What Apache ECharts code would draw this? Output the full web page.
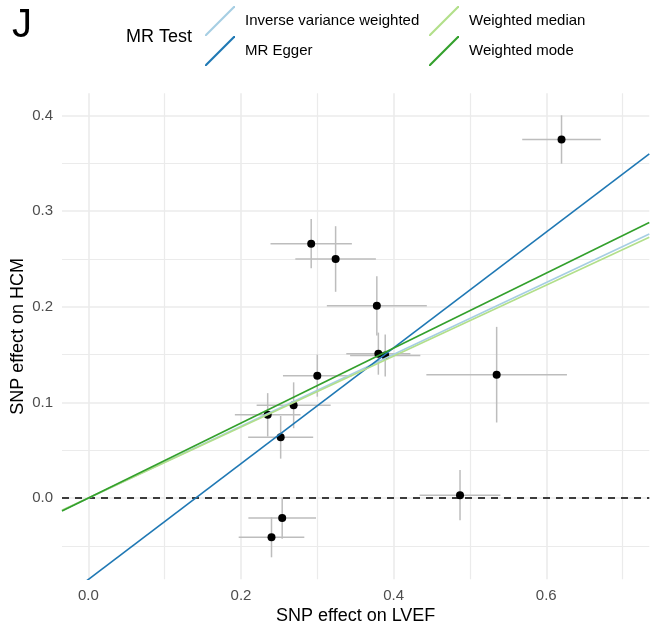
<!DOCTYPE html>
<html><head><meta charset="utf-8">
<script src="https://cdn.jsdelivr.net/npm/echarts@6/dist/echarts.min.js"></script>
<style>html,body{margin:0;padding:0;background:#fff}#c{width:661px;height:631px}</style>
</head><body><div id="c"></div>
<script>
// SNP effects (x: LVEF, y: HCM) with standard errors
const bx  = [0.620, 0.292, 0.324, 0.378, 0.380, 0.389, 0.535, 0.300, 0.269, 0.235, 0.252, 0.254, 0.240, 0.487];
const by  = [0.375, 0.266, 0.250, 0.201, 0.151, 0.149, 0.129, 0.128, 0.097, 0.087, 0.0635, -0.021, -0.041, 0.003];
const seX = [0.0515, 0.0533, 0.0528, 0.0655, 0.042, 0.046, 0.0921, 0.045, 0.0485, 0.043, 0.0426, 0.0443, 0.043, 0.0529];
const seY = [0.0253, 0.0258, 0.0343, 0.031, 0.022, 0.022, 0.050, 0.022, 0.024, 0.0227, 0.0223, 0.0215, 0.021, 0.0263];
// MR methods
const methods    = ['Inverse variance weighted', 'MR Egger', 'Weighted median', 'Weighted mode'];
const slopes     = [0.3757, 0.6055, 0.371, 0.392];
const intercepts = [0, -0.0852, 0, 0];
const methodColors = ['#a6cee3', '#1f78b4', '#b2df8a', '#33a02c'];
// axes
const xRange = [-0.0345, 0.735];
const yRange = [-0.085, 0.4233];
const xTicks = [0.0, 0.2, 0.4, 0.6];
const xMinor = [0.1, 0.3, 0.5, 0.7];
const yTicks = [0.0, 0.1, 0.2, 0.3, 0.4];
const yMinor = [-0.05, 0.05, 0.15, 0.25, 0.35];

const FONT = 'Liberation Sans, Arial, Helvetica, sans-serif';
const chart = echarts.init(document.getElementById('c'), null, {renderer: 'canvas'});

const pts = bx.map((x, i) => [x, by[i], seX[i], seY[i]]);

const methodSeries = methods.map((m, i) => ({
  name: m, type: 'line', xAxisIndex: 0, yAxisIndex: 0,
  data: xRange.map(x => [x, intercepts[i] + slopes[i] * x]),
  symbol: 'none', clip: true, silent: true, z: 5,
  lineStyle: {color: methodColors[i], width: 1.6},
  itemStyle: {color: methodColors[i], borderWidth: 0}
}));

const legendIcon = 'path://M0,30 L1.5,30 L30,1.5 L30,0 L28.5,0 L0,28.5 Z';
const legendCommon = {
  orient: 'vertical', top: 6, itemWidth: 30, itemHeight: 30, itemGap: 0, padding: 0,
  icon: legendIcon, selectedMode: false,
  itemStyle: {borderWidth: 0, borderColor: 'rgba(0,0,0,0)'},
  lineStyle: {width: 0},
  textStyle: {fontFamily: FONT, fontSize: 15, color: '#000', padding: [2, 0, 0, 5]}
};

const option = {
  animation: false,
  backgroundColor: '#fff',
  title: [
    {text: 'J', left: 12, top: 6, padding: 0, textStyle: {fontFamily: FONT, fontSize: 40, fontWeight: 'normal', color: '#000'}},
    {text: 'MR Test', left: 126, top: 28, padding: 0, textStyle: {fontFamily: FONT, fontSize: 18, fontWeight: 'normal', color: '#000'}}
  ],
  legend: [
    Object.assign({left: 205, data: [methods[0], methods[1]]}, legendCommon),
    Object.assign({left: 429, data: [methods[2], methods[3]]}, legendCommon)
  ],
  grid: {left: 62, right: 11.7, top: 93.3, bottom: 51.7, containLabel: false, outerBoundsMode: 'none'},
  xAxis: [
    {type: 'value', min: xRange[0], max: xRange[1], position: 'bottom',
     name: 'SNP effect on LVEF', nameLocation: 'middle', nameGap: 28, nameMoveOverlap: false,
     nameTextStyle: {fontFamily: FONT, fontSize: 18, color: '#000'},
     axisLine: {show: false}, axisTick: {show: false, customValues: xTicks},
     axisLabel: {customValues: xTicks, margin: 9, fontFamily: FONT, fontSize: 15, color: '#4d4d4d',
                 formatter: v => v.toFixed(1)},
     splitLine: {show: true, lineStyle: {color: '#ebebeb', width: 1.6}}},
    {type: 'value', min: xRange[0], max: xRange[1], position: 'top',
     axisLine: {show: false}, axisTick: {show: false, customValues: xMinor},
     axisLabel: {show: false, customValues: xMinor},
     splitLine: {show: true, lineStyle: {color: '#ebebeb', width: 1.2}}}
  ],
  yAxis: [
    {type: 'value', min: yRange[0], max: yRange[1], position: 'left',
     name: 'SNP effect on HCM', nameLocation: 'middle', nameGap: 35, nameRotate: 90, nameMoveOverlap: false,
     nameTextStyle: {fontFamily: FONT, fontSize: 18, color: '#000'},
     axisLine: {show: false}, axisTick: {show: false, customValues: yTicks},
     axisLabel: {customValues: yTicks, margin: 9, fontFamily: FONT, fontSize: 15, color: '#4d4d4d',
                 formatter: v => v.toFixed(1)},
     splitLine: {show: true, lineStyle: {color: '#ebebeb', width: 1.6}}},
    {type: 'value', min: yRange[0], max: yRange[1], position: 'right',
     axisLine: {show: false}, axisTick: {show: false, customValues: yMinor},
     axisLabel: {show: false, customValues: yMinor},
     splitLine: {show: true, lineStyle: {color: '#ebebeb', width: 1.2}}}
  ],
  series: [
    {type: 'custom', name: 'errors', xAxisIndex: 0, yAxisIndex: 0, data: pts, z: 2, silent: true,
     encode: {x: 0, y: 1},
     renderItem: function (params, api) {
       const x = api.value(0), y = api.value(1), sx = api.value(2), sy = api.value(3);
       const l = api.coord([x - sx, y]), r = api.coord([x + sx, y]);
       const t = api.coord([x, y + sy]), b = api.coord([x, y - sy]);
       const st = {stroke: '#bdbdbd', lineWidth: 1.5};
       return {type: 'group', children: [
         {type: 'line', shape: {x1: l[0], y1: l[1], x2: r[0], y2: r[1]}, style: st},
         {type: 'line', shape: {x1: t[0], y1: t[1], x2: b[0], y2: b[1]}, style: st}
       ]};
     }},
    {type: 'line', name: 'zero', xAxisIndex: 0, yAxisIndex: 0, data: xRange.map(x => [x, 0]),
     symbol: 'none', silent: true, z: 3,
     lineStyle: {color: '#000', width: 1.4, type: [7, 6]}},
    {type: 'scatter', name: 'SNPs', xAxisIndex: 0, yAxisIndex: 0, data: pts.map(p => [p[0], p[1]]),
     symbol: 'circle', symbolSize: 8, z: 4, silent: true,
     itemStyle: {color: '#000', opacity: 1}}
  ].concat(methodSeries)
};
chart.setOption(option);
</script>
</body></html>
